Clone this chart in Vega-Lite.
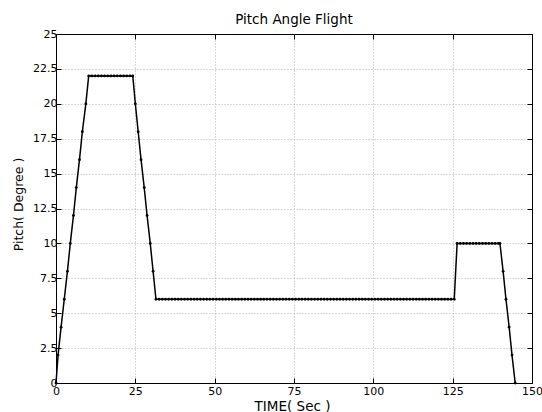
{
  "$schema": "https://vega.github.io/schema/vega-lite/v6.json",
  "width": 476,
  "height": 349,
  "autosize": {"type": "none"},
  "padding": {"left": 56, "top": 34, "right": 10, "bottom": 29},
  "background": "white",
  "title": {"text": "Pitch Angle Flight", "font": "DejaVu Sans", "fontSize": 13.5, "fontWeight": "normal", "color": "black", "baseline": "bottom", "offset": 8, "frame": "group", "dy": 20},
  "config": {
    "view": {"stroke": "black", "strokeWidth": 1},
    "axis": {"minExtent": 0, "labelFont": "DejaVu Sans", "labelFontSize": 11, "labelColor": "black", "titleFont": "DejaVu Sans", "titleColor": "black", "titleFontWeight": "normal", "domainColor": "black", "tickColor": "black", "gridColor": "#b0b0b0", "gridDash": [1, 2], "gridWidth": 1}
  },
  "data": {"values": [
    {"t":0,"pitch":0},{"t":0.65,"pitch":2},{"t":1.6,"pitch":4},{"t":2.6,"pitch":6},{"t":3.6,"pitch":8},{"t":4.5,"pitch":10},{"t":5.5,"pitch":12},{"t":6.4,"pitch":14},{"t":7.4,"pitch":16},{"t":8.3,"pitch":18},{"t":9.4,"pitch":20},{"t":10.3,"pitch":22},
    {"t":11.3,"pitch":22},{"t":12.3,"pitch":22},{"t":13.3,"pitch":22},{"t":14.3,"pitch":22},{"t":15.3,"pitch":22},{"t":16.3,"pitch":22},{"t":17.3,"pitch":22},{"t":18.3,"pitch":22},{"t":19.3,"pitch":22},{"t":20.3,"pitch":22},{"t":21.3,"pitch":22},{"t":22.3,"pitch":22},{"t":23.3,"pitch":22},{"t":24.2,"pitch":22},
    {"t":25.0,"pitch":20},{"t":25.9,"pitch":18},{"t":26.8,"pitch":16},{"t":27.8,"pitch":14},{"t":28.7,"pitch":12},{"t":29.7,"pitch":10},{"t":30.6,"pitch":8},{"t":31.5,"pitch":6},
    {"t":32.5,"pitch":6},{"t":33.5,"pitch":6},{"t":34.5,"pitch":6},{"t":35.5,"pitch":6},{"t":36.5,"pitch":6},{"t":37.5,"pitch":6},{"t":38.5,"pitch":6},{"t":39.5,"pitch":6},{"t":40.5,"pitch":6},{"t":41.5,"pitch":6},
    {"t":42.5,"pitch":6},{"t":43.5,"pitch":6},{"t":44.5,"pitch":6},{"t":45.5,"pitch":6},{"t":46.5,"pitch":6},{"t":47.5,"pitch":6},{"t":48.5,"pitch":6},{"t":49.5,"pitch":6},{"t":50.5,"pitch":6},{"t":51.5,"pitch":6},
    {"t":52.5,"pitch":6},{"t":53.5,"pitch":6},{"t":54.5,"pitch":6},{"t":55.5,"pitch":6},{"t":56.5,"pitch":6},{"t":57.5,"pitch":6},{"t":58.5,"pitch":6},{"t":59.5,"pitch":6},{"t":60.5,"pitch":6},{"t":61.5,"pitch":6},
    {"t":62.5,"pitch":6},{"t":63.5,"pitch":6},{"t":64.5,"pitch":6},{"t":65.5,"pitch":6},{"t":66.5,"pitch":6},{"t":67.5,"pitch":6},{"t":68.5,"pitch":6},{"t":69.5,"pitch":6},{"t":70.5,"pitch":6},{"t":71.5,"pitch":6},
    {"t":72.5,"pitch":6},{"t":73.5,"pitch":6},{"t":74.5,"pitch":6},{"t":75.5,"pitch":6},{"t":76.5,"pitch":6},{"t":77.5,"pitch":6},{"t":78.5,"pitch":6},{"t":79.5,"pitch":6},{"t":80.5,"pitch":6},{"t":81.5,"pitch":6},
    {"t":82.5,"pitch":6},{"t":83.5,"pitch":6},{"t":84.5,"pitch":6},{"t":85.5,"pitch":6},{"t":86.5,"pitch":6},{"t":87.5,"pitch":6},{"t":88.5,"pitch":6},{"t":89.5,"pitch":6},{"t":90.5,"pitch":6},{"t":91.5,"pitch":6},
    {"t":92.5,"pitch":6},{"t":93.5,"pitch":6},{"t":94.5,"pitch":6},{"t":95.5,"pitch":6},{"t":96.5,"pitch":6},{"t":97.5,"pitch":6},{"t":98.5,"pitch":6},{"t":99.5,"pitch":6},{"t":100.5,"pitch":6},{"t":101.5,"pitch":6},
    {"t":102.5,"pitch":6},{"t":103.5,"pitch":6},{"t":104.5,"pitch":6},{"t":105.5,"pitch":6},{"t":106.5,"pitch":6},{"t":107.5,"pitch":6},{"t":108.5,"pitch":6},{"t":109.5,"pitch":6},{"t":110.5,"pitch":6},{"t":111.5,"pitch":6},
    {"t":112.5,"pitch":6},{"t":113.5,"pitch":6},{"t":114.5,"pitch":6},{"t":115.5,"pitch":6},{"t":116.5,"pitch":6},{"t":117.5,"pitch":6},{"t":118.5,"pitch":6},{"t":119.5,"pitch":6},{"t":120.5,"pitch":6},{"t":121.5,"pitch":6},
    {"t":122.5,"pitch":6},{"t":123.5,"pitch":6},{"t":124.5,"pitch":6},{"t":125.5,"pitch":6},
    {"t":126.4,"pitch":10},{"t":127.4,"pitch":10},{"t":128.4,"pitch":10},{"t":129.4,"pitch":10},{"t":130.4,"pitch":10},{"t":131.4,"pitch":10},{"t":132.4,"pitch":10},{"t":133.4,"pitch":10},{"t":134.4,"pitch":10},{"t":135.4,"pitch":10},{"t":136.4,"pitch":10},{"t":137.4,"pitch":10},{"t":138.4,"pitch":10},{"t":139.4,"pitch":10},{"t":139.9,"pitch":10},
    {"t":140.9,"pitch":8},{"t":141.8,"pitch":6},{"t":142.8,"pitch":4},{"t":143.7,"pitch":2},{"t":144.7,"pitch":0}
  ]},
  "layer": [
    {
      "mark": {"type": "line", "color": "black", "strokeWidth": 1.5},
      "encoding": {
        "x": {"field": "t", "type": "quantitative", "scale": {"domain": [0, 150], "nice": false},
              "axis": {"orient": "bottom", "values": [0, 25, 50, 75, 100, 125, 150], "format": ".4~g", "tickSize": -5, "labelPadding": 7, "labelFlush": false, "title": "TIME( Sec )", "titleFontSize": 13.5, "titleX": 236, "titleY": 27, "titleBaseline": "alphabetic", "titleAlign": "center"}},
        "y": {"field": "pitch", "type": "quantitative", "scale": {"domain": [0, 25], "nice": false},
              "axis": {"orient": "left", "values": [0, 2.5, 5, 7.5, 10, 12.5, 15, 17.5, 20, 22.5, 25], "format": ".4~g", "tickSize": -5, "labelPadding": 4, "labelFlush": false, "title": "Pitch( Degree )", "titleFontSize": 12.5, "titleAngle": -90, "titleX": -38, "titleY": 170, "titleBaseline": "middle", "titleAlign": "center"}}
      }
    },
    {
      "mark": {"type": "point", "filled": true, "color": "black", "size": 8, "opacity": 1},
      "encoding": {
        "x": {"field": "t", "type": "quantitative", "scale": {"domain": [0, 150], "nice": false},
              "axis": {"orient": "top", "values": [0, 25, 50, 75, 100, 125, 150], "tickSize": -5, "labels": false, "grid": false, "title": null}},
        "y": {"field": "pitch", "type": "quantitative", "scale": {"domain": [0, 25], "nice": false},
              "axis": {"orient": "right", "values": [0, 2.5, 5, 7.5, 10, 12.5, 15, 17.5, 20, 22.5, 25], "tickSize": -5, "labels": false, "grid": false, "title": null}}
      }
    }
  ],
  "resolve": {"axis": {"x": "independent", "y": "independent"}}
}
